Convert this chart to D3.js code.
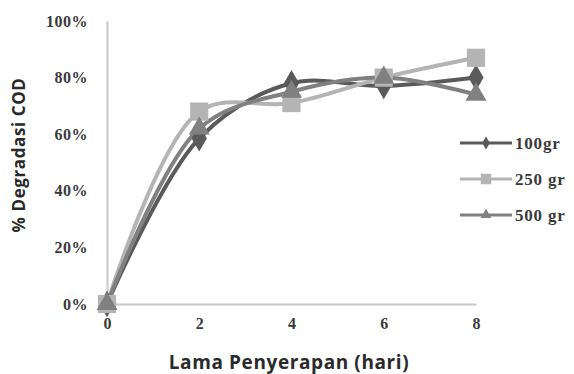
<!DOCTYPE html>
<html>
<head>
<meta charset="utf-8">
<script src="https://cdn.jsdelivr.net/npm/d3@7"></script>
<style>
  body { margin: 0; background: #fff; }
  svg { display: block; }
</style>
</head>
<body>
<div id="chart"></div>
<script>
// data
var days = [0, 2, 4, 6, 8];
var s100 = [0, 0.585, 0.78, 0.77, 0.80];
var s250 = [0, 0.68, 0.71, 0.80, 0.87];
var s500 = [0, 0.62, 0.75, 0.80, 0.74];
var seriesNames = ["100gr", "250 gr", "500 gr"];
var yTicks = [0, 0.2, 0.4, 0.6, 0.8, 1];

var W = 574, H = 374;
var margin = {top: 21, left: 107},
    width = 476 - 107,
    height = 304 - 21;

var svg = d3.select("#chart")
  .append("svg")
    .attr("width", W)
    .attr("height", H);

var g = svg.append("g")
    .attr("transform", "translate(" + margin.left + "," + margin.top + ")");

var x = d3.scaleLinear().domain([0, 8]).range([0, width]);
var y = d3.scaleLinear().domain([0, 1]).range([height, 0]);

// y axis
var yAxis = g.append("g")
    .call(d3.axisLeft(y).tickValues(yTicks).tickFormat(d3.format(".0%")).tickSize(0).tickPadding(19));
yAxis.select(".domain").attr("stroke", "#c8c8c8").attr("stroke-width", 2);
yAxis.selectAll("text")
    .attr("font-family", "Liberation Serif, serif")
    .attr("font-size", 16)
    .attr("font-weight", "bold")
    .attr("letter-spacing", 0.5)
    .attr("fill", "#3a3a3a");

// x axis
var xAxis = g.append("g")
    .attr("transform", "translate(0," + height + ")")
    .call(d3.axisBottom(x).tickValues(days).tickSize(0).tickPadding(14));
xAxis.select(".domain").attr("stroke", "#c8c8c8").attr("stroke-width", 2);
xAxis.selectAll("text")
    .attr("font-family", "Liberation Serif, serif")
    .attr("font-size", 16)
    .attr("font-weight", "bold")
    .attr("fill", "#3a3a3a");

// axis titles
svg.append("text")
    .attr("x", 289)
    .attr("y", 369)
    .attr("text-anchor", "middle")
    .attr("font-family", "Open Sans, sans-serif")
    .attr("font-weight", "bold")
    .attr("font-size", 19)
    .attr("letter-spacing", 0.6)
    .attr("fill", "#2a2a2a")
    .text("Lama Penyerapan (hari)");

svg.append("text")
    .attr("transform", "translate(25,155) rotate(-90)")
    .attr("text-anchor", "middle")
    .attr("font-family", "Open Sans, sans-serif")
    .attr("font-weight", "bold")
    .attr("font-size", 17)
    .attr("letter-spacing", 0.6)
    .attr("fill", "#2a2a2a")
    .text("% Degradasi COD");

var series = [
  {name: seriesNames[0], values: s100, color: "#5a5a5a", shape: d3.symbolDiamond, size: 200},
  {name: seriesNames[1], values: s250, color: "#b4b4b4", shape: d3.symbolSquare, size: 330},
  {name: seriesNames[2], values: s500, color: "#808080", shape: d3.symbolTriangle, size: 190}
];

var line = d3.line()
    .x(function(d, i) { return x(days[i]); })
    .y(function(d) { return y(d); })
    .curve(d3.curveCatmullRom.alpha(0.5));

series.forEach(function(s) {
  g.append("path")
      .datum(s.values)
      .attr("fill", "none")
      .attr("stroke", s.color)
      .attr("stroke-width", 4)
      .attr("d", line);
});

series.forEach(function(s) {
  g.selectAll(null)
      .data(s.values)
      .enter()
      .append("path")
      .attr("d", d3.symbol().type(s.shape).size(s.size))
      .attr("transform", function(d, i) { return "translate(" + x(days[i]) + "," + y(d) + ")"; })
      .attr("fill", s.color);
});

// legend
var legend = svg.append("g").attr("transform", "translate(460,143)");
series.forEach(function(s, i) {
  var row = legend.append("g").attr("transform", "translate(0," + (i * 36) + ")");
  row.append("line")
      .attr("x1", 0).attr("x2", 52)
      .attr("stroke", s.color)
      .attr("stroke-width", 3);
  row.append("path")
      .attr("d", d3.symbol().type(s.shape).size(i == 1 ? 110 : 50))
      .attr("transform", "translate(26,0)")
      .attr("fill", s.color);
  row.append("text")
      .attr("x", 55)
      .attr("y", 6)
      .attr("font-family", "Liberation Serif, serif")
      .attr("font-size", 17)
      .attr("font-weight", "bold")
      .attr("letter-spacing", 0.8)
      .attr("fill", "#3a3a3a")
      .text(s.name);
});
</script>
</body>
</html>
